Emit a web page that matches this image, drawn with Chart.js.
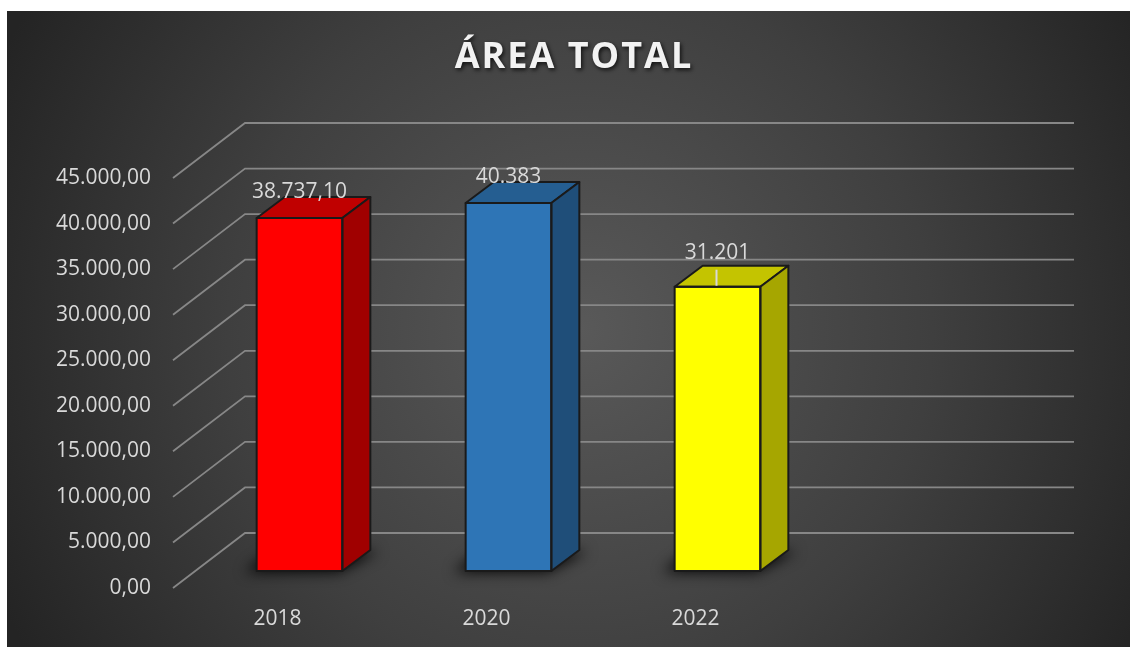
<!DOCTYPE html>
<html>
<head>
<meta charset="utf-8">
<script src="https://cdn.jsdelivr.net/npm/chart.js@4.4.1/dist/chart.umd.min.js"></script>
<style>
  html, body { margin: 0; padding: 0; background: #ffffff; }
  canvas { display: block; }
</style>
</head>
<body>
<canvas id="c" width="1130" height="647"></canvas>
<script>
// ---- data ----
const categories = ['2018', '2020', '2022', ''];
const values = [38737.10, 40383, 31201, null];
const dataLabels = ['38.737,10', '40.383', '31.201'];
const frontColors = ['#ff0000', '#2e75b6', '#ffff00'];
const topColors = ['#c00000', '#255e91', '#c4c400'];
const sideColors = ['#a00000', '#1f4e79', '#a6a600'];
const chartTitle = 'ÁREA TOTAL';
const yMin = 0, yMax = 45000, yStep = 5000;

function fmtBR(v, dec) {
  const s = Number(v).toFixed(dec);
  const parts = s.split('.');
  const i = parts[0].replace(/\B(?=(\d{3})+(?!\d))/g, '.');
  return parts[1] ? i + ',' + parts[1] : i;
}

// 3D geometry (pixels)
const FLOOR_DX = 72, FLOOR_DY = -55;   // depth of the floor / side wall
const BAR_OFF_X = 22, BAR_OFF_Y = -17; // bar front face inside the depth
const BAR_DX = 28, BAR_DY = -21;       // bar depth

const TEXT = '#d9d9d9';
const FONT = '"Open Sans", "DejaVu Sans", sans-serif';

const plugin3d = {
  id: 'plugin3d',
  beforeDraw(chart) {
    const ctx = chart.ctx;
    const W = chart.width, H = chart.height;
    ctx.save();
    ctx.fillStyle = '#ffffff';
    ctx.fillRect(0, 0, W, H);
    const g = ctx.createRadialGradient(580, 330, 0, 580, 330, 640);
    g.addColorStop(0, '#595959');
    g.addColorStop(0.55, '#3f3f3f');
    g.addColorStop(1, '#242424');
    ctx.fillStyle = g;
    ctx.fillRect(7, 11, W - 7, H - 11);

    // title
    ctx.font = 'bold 36px ' + FONT;
    try { ctx.letterSpacing = '2px'; } catch (e) {}
    ctx.textAlign = 'center';
    ctx.textBaseline = 'middle';
    ctx.shadowColor = 'rgba(0,0,0,0.75)';
    ctx.shadowBlur = 4;
    ctx.shadowOffsetX = 1.5;
    ctx.shadowOffsetY = 2;
    ctx.fillStyle = '#f2f2f2';
    ctx.fillText(chartTitle, 574, 58);
    ctx.restore();

    // gridlines: left wall diagonal + back wall horizontal
    const ys = chart.scales.y, area = chart.chartArea;
    const rightEnd = area.right + 65;
    ctx.save();
    ctx.strokeStyle = '#878787';
    ctx.lineWidth = 1.8;
    ys.ticks.forEach(t => {
      const yp = ys.getPixelForValue(t.value);
      ctx.beginPath();
      ctx.moveTo(area.left, yp);
      ctx.lineTo(area.left + FLOOR_DX, yp + FLOOR_DY);
      ctx.lineTo(rightEnd, yp + FLOOR_DY);
      ctx.stroke();
    });
    ctx.restore();
  },
  beforeDatasetsDraw(chart) {
    const ctx = chart.ctx;
    const meta = chart.getDatasetMeta(0);
    // soft floor shadows (offscreen shape, only its blurred shadow is drawn)
    ctx.save();
    ctx.translate(BAR_OFF_X, BAR_OFF_Y);
    meta.data.forEach((el, i) => {
      if (values[i] == null) return;
      const p = el.getProps(['x', 'y', 'base', 'width'], true);
      const L = p.x - p.width / 2, R = p.x + p.width / 2, B = p.base;
      const OFF = 2000;
      ctx.save();
      ctx.shadowColor = 'rgba(0,0,0,0.95)';
      ctx.shadowBlur = 14;
      ctx.shadowOffsetX = OFF - 12;
      ctx.shadowOffsetY = 1;
      ctx.fillStyle = '#000';
      ctx.beginPath();
      ctx.moveTo(L - OFF, B);
      ctx.lineTo(R - OFF + 8, B);
      ctx.lineTo(R + BAR_DX - OFF + 20, B + BAR_DY);
      ctx.lineTo(L + BAR_DX - OFF, B + BAR_DY);
      ctx.closePath();
      ctx.fill();
      ctx.restore();
    });
    ctx.restore();
    ctx.save();
    ctx.translate(BAR_OFF_X, BAR_OFF_Y);
  },
  afterDatasetsDraw(chart) {
    const ctx = chart.ctx;
    const meta = chart.getDatasetMeta(0);
    meta.data.forEach((el, i) => {
      if (values[i] == null) return;
      const p = el.getProps(['x', 'y', 'base', 'width'], true);
      const L = p.x - p.width / 2, R = p.x + p.width / 2, T = p.y, B = p.base;
      ctx.lineWidth = 2;
      ctx.lineJoin = 'round';
      ctx.strokeStyle = '#1a1a1a';
      // top face
      ctx.fillStyle = topColors[i];
      ctx.beginPath();
      ctx.moveTo(L, T);
      ctx.lineTo(R, T);
      ctx.lineTo(R + BAR_DX, T + BAR_DY);
      ctx.lineTo(L + BAR_DX, T + BAR_DY);
      ctx.closePath();
      ctx.fill();
      ctx.stroke();
      // side face
      ctx.fillStyle = sideColors[i];
      ctx.beginPath();
      ctx.moveTo(R, T);
      ctx.lineTo(R + BAR_DX, T + BAR_DY);
      ctx.lineTo(R + BAR_DX, B + BAR_DY);
      ctx.lineTo(R, B);
      ctx.closePath();
      ctx.fill();
      ctx.stroke();
      // front outline
      ctx.strokeRect(L, T, R - L, B - T);
    });
    // data labels
    ctx.font = '21px ' + FONT;
    ctx.fillStyle = TEXT;
    ctx.textAlign = 'center';
    ctx.textBaseline = 'middle';
    meta.data.forEach((el, i) => {
      if (values[i] == null) return;
      const p = el.getProps(['x', 'y'], true);
      const lift = (i === 2) ? 34 : 26;
      ctx.fillText(dataLabels[i], p.x, p.y - lift);
      if (i === 2) {
        ctx.strokeStyle = TEXT;
        ctx.lineWidth = 2;
        ctx.beginPath();
        ctx.moveTo(p.x - 1, p.y - lift + 17);
        ctx.lineTo(p.x - 1, p.y - 1);
        ctx.stroke();
      }
    });
    ctx.restore();
  }
};

new Chart(document.getElementById('c'), {
  type: 'bar',
  data: {
    labels: categories,
    datasets: [{
      data: values,
      backgroundColor: frontColors,
      borderWidth: 0,
      barPercentage: 0.41,
      categoryPercentage: 1.0,
      clip: false
    }]
  },
  options: {
    responsive: false,
    animation: false,
    devicePixelRatio: 1,
    layout: { padding: { left: 0, right: 121, top: 178, bottom: 0 } },
    plugins: { legend: { display: false }, tooltip: { enabled: false }, title: { display: false } },
    scales: {
      x: {
        grid: { display: false },
        border: { display: false },
        ticks: { color: TEXT, font: { family: FONT, size: 21 }, padding: 10, maxRotation: 0 },
        afterFit(axis) { axis.height = 59; }
      },
      y: {
        min: yMin, max: yMax,
        grid: { display: false },
        border: { display: false },
        ticks: {
          stepSize: yStep, color: TEXT, font: { family: FONT, size: 21 }, padding: 14,
          callback: v => fmtBR(v, 2)
        },
        afterFit(axis) { axis.width = 173; }
      }
    }
  },
  plugins: [plugin3d]
});
</script>
</body>
</html>
